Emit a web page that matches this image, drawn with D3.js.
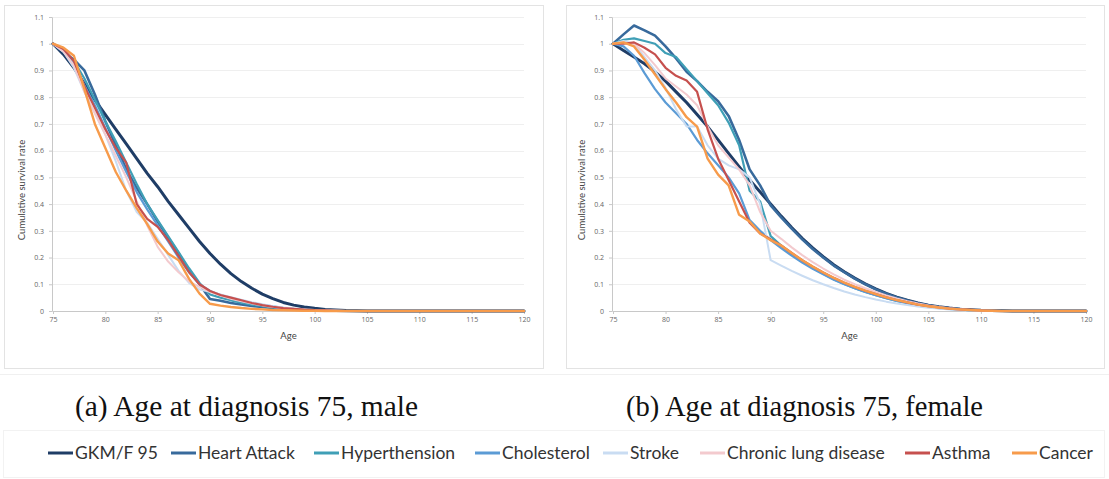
<!DOCTYPE html>
<html><head><meta charset="utf-8">
<script src="https://cdn.jsdelivr.net/npm/d3@7"></script>
<style>body{margin:0;background:#fff}svg{display:block}</style>
</head><body>
<svg id="c" width="1109" height="479"></svg>
<script>
// ---------- data ----------
const ages = d3.range(75, 121);
const seriesNames = ["GKM/F 95","Heart Attack","Hyperthension","Cholesterol","Stroke","Chronic lung disease","Asthma","Cancer"];
const yTicks = [0,0.1,0.2,0.3,0.4,0.5,0.6,0.7,0.8,0.9,1,1.1];
const xTicks = [75,80,85,90,95,100,105,110,115,120];
const captions = ["(a)  Age at diagnosis 75, male", "(b) Age at diagnosis 75, female"];

// male
const gkmMale = [1.0,0.96,0.91,0.85,0.79,0.735,0.68,0.625,0.57,0.515,0.465,0.41,0.36,0.31,0.26,0.215,0.175,0.14,0.11,0.085,0.063,0.046,0.032,0.022,0.015,0.01,0.006,0.004,0.002,0.001,0,0,0,0,0,0,0,0,0,0,0,0,0,0,0,0];
const heartMale = [1,0.97,0.94,0.9,0.81,0.71,0.62,0.53,0.46,0.4,0.335,0.275,0.215,0.15,0.1,0.045,0.038,0.03,0.024,0.019,0.015,0.011,0.008,0.006,0.004,0.003,0.002,0.001,0,0,0,0,0,0,0,0,0,0,0,0,0,0,0,0,0,0];
const hyperMale = [1,0.97,0.935,0.87,0.79,0.71,0.635,0.555,0.475,0.4,0.34,0.28,0.22,0.16,0.105,0.062,0.05,0.04,0.031,0.024,0.018,0.013,0.009,0.006,0.004,0.003,0.002,0.001,0,0,0,0,0,0,0,0,0,0,0,0,0,0,0,0,0,0];
const cholMale = [1,0.97,0.925,0.845,0.77,0.685,0.6,0.52,0.445,0.38,0.32,0.26,0.2,0.145,0.1,0.075,0.06,0.048,0.038,0.03,0.023,0.017,0.012,0.008,0.005,0.003,0.002,0.001,0,0,0,0,0,0,0,0,0,0,0,0,0,0,0,0,0,0];
const strokeMale = [1,0.97,0.91,0.82,0.74,0.66,0.56,0.45,0.37,0.33,0.27,0.21,0.15,0.105,0.08,0.072,0.062,0.052,0.042,0.033,0.025,0.018,0.013,0.009,0.006,0.004,0.002,0.001,0,0,0,0,0,0,0,0,0,0,0,0,0,0,0,0,0,0];
const lungMale = [1,0.97,0.92,0.82,0.74,0.66,0.58,0.5,0.41,0.32,0.24,0.185,0.145,0.11,0.09,0.072,0.058,0.046,0.036,0.028,0.021,0.015,0.011,0.007,0.005,0.003,0.002,0.001,0,0,0,0,0,0,0,0,0,0,0,0,0,0,0,0,0,0];
const asthmaMale = [1,0.98,0.935,0.84,0.76,0.68,0.61,0.555,0.4,0.345,0.315,0.265,0.205,0.145,0.1,0.075,0.06,0.05,0.04,0.03,0.022,0.016,0.011,0.008,0.005,0.003,0.002,0.001,0,0,0,0,0,0,0,0,0,0,0,0,0,0,0,0,0,0];
const cancerMale = [1,0.985,0.955,0.83,0.7,0.61,0.52,0.45,0.385,0.325,0.26,0.215,0.19,0.12,0.065,0.027,0.02,0.015,0.011,0.008,0.006,0.004,0.003,0.002,0.001,0.001,0,0,0,0,0,0,0,0,0,0,0,0,0,0,0,0,0,0,0,0];

// female
const gkmFemale = [1.0,0.975,0.95,0.925,0.895,0.86,0.82,0.78,0.735,0.69,0.64,0.59,0.54,0.49,0.445,0.4,0.355,0.312,0.272,0.236,0.203,0.173,0.147,0.123,0.102,0.083,0.066,0.052,0.04,0.03,0.022,0.016,0.011,0.007,0.005,0.003,0.002,0.001,0,0,0,0,0,0,0,0];
const heartFemale = [1,1.035,1.068,1.05,1.03,0.99,0.945,0.895,0.86,0.82,0.785,0.73,0.64,0.53,0.47,0.395,0.35,0.308,0.268,0.232,0.2,0.17,0.145,0.121,0.1,0.081,0.065,0.051,0.039,0.029,0.021,0.015,0.01,0.007,0.004,0.003,0.002,0.001,0,0,0,0,0,0,0,0];
const hyperFemale = [1,1.015,1.02,1.01,1.0,0.965,0.95,0.905,0.86,0.815,0.77,0.705,0.62,0.45,0.41,0.28,0.245,0.214,0.186,0.161,0.139,0.119,0.101,0.085,0.071,0.059,0.048,0.038,0.03,0.023,0.017,0.012,0.008,0.005,0.003,0.002,0.001,0,0,0,0,0,0,0,0,0];
const cholFemale = [1,0.99,0.955,0.89,0.83,0.78,0.74,0.7,0.64,0.59,0.545,0.5,0.44,0.34,0.3,0.265,0.235,0.207,0.181,0.158,0.137,0.117,0.1,0.085,0.071,0.059,0.048,0.038,0.029,0.022,0.016,0.011,0.008,0.005,0.003,0.002,0.001,0,0,0,0,0,0,0,0,0];
const strokeFemale = [1,1.01,1.0,0.95,0.9,0.835,0.755,0.69,0.69,0.62,0.57,0.545,0.53,0.5,0.4,0.19,0.17,0.15,0.132,0.115,0.1,0.086,0.073,0.062,0.052,0.043,0.035,0.028,0.022,0.017,0.012,0.009,0.006,0.004,0.002,0.001,0,0,0,0,0,0,0,0,0,0];
const lungFemale = [1,1.005,1.0,0.965,0.92,0.87,0.84,0.81,0.77,0.69,0.62,0.575,0.53,0.47,0.37,0.3,0.27,0.238,0.209,0.183,0.159,0.137,0.117,0.1,0.085,0.071,0.058,0.047,0.037,0.028,0.021,0.015,0.01,0.007,0.004,0.002,0.001,0,0,0,0,0,0,0,0,0];
const asthmaFemale = [1,1.0,1.005,0.985,0.96,0.91,0.88,0.862,0.82,0.68,0.57,0.49,0.41,0.33,0.29,0.268,0.245,0.217,0.19,0.166,0.144,0.124,0.106,0.09,0.076,0.063,0.051,0.041,0.032,0.024,0.018,0.013,0.009,0.006,0.004,0.002,0.001,0,0,0,0,0,0,0,0,0];
const cancerFemale = [1,1.005,0.99,0.94,0.885,0.83,0.78,0.725,0.69,0.57,0.51,0.47,0.36,0.335,0.29,0.265,0.245,0.217,0.19,0.166,0.144,0.124,0.106,0.09,0.076,0.063,0.051,0.041,0.032,0.024,0.018,0.013,0.009,0.006,0.004,0.002,0.001,0,0,0,0,0,0,0,0,0];

const maleSeries = [gkmMale,heartMale,hyperMale,cholMale,strokeMale,lungMale,asthmaMale,cancerMale];
const femaleSeries = [gkmFemale,heartFemale,hyperFemale,cholFemale,strokeFemale,lungFemale,asthmaFemale,cancerFemale];

// ---------- styles ----------
const colors = ["#1f3d66","#386a9c","#3f9fb6","#5b9bd5","#c9dcf2","#f3cace","#c6504e","#f79b4b"];
const widths = [3,2.6,2.2,2.2,2,2,2.2,2.4];

const svg = d3.select("#c");
const font = "Lato, 'Open Sans', sans-serif";

// panel frames
svg.append("rect").attr("x",4.5).attr("y",5.5).attr("width",539).attr("height",363)
  .attr("fill","#fff").attr("stroke","#e3e3e3");
svg.append("rect").attr("x",566.5).attr("y",5.5).attr("width",538).attr("height",363)
  .attr("fill","#fff").attr("stroke","#e3e3e3");
svg.append("line").attr("x1",0).attr("x2",1109).attr("y1",374.5).attr("y2",374.5).attr("stroke","#f0f0f0");

function panel(x0, x1, data) {
  const top = 17, bottom = 311;
  const x = d3.scaleLinear().domain([75,120]).range([x0,x1]);
  const y = d3.scaleLinear().domain([0,1.1]).range([bottom,top]);
  const g = svg.append("g");
  // gridlines
  g.append("g").selectAll("line").data(yTicks.filter(d=>d>0)).join("line")
    .attr("x1",x0).attr("x2",x1).attr("y1",d=>Math.round(y(d))+0.5).attr("y2",d=>Math.round(y(d))+0.5)
    .attr("stroke","#efefef");
  // y axis
  const ya = g.append("g").attr("transform",`translate(${x0-1},0)`)
    .call(d3.axisLeft(y).tickValues(yTicks).tickSize(3).tickFormat(d=>String(+d.toFixed(1))));
  ya.select(".domain").attr("stroke","#c8c8c8");
  ya.selectAll(".tick line").attr("stroke","#c8c8c8");
  ya.selectAll("text").attr("fill","#666").attr("font-size",7).attr("font-family","'Open Sans', sans-serif").attr("dx",-2);
  // x axis
  const xa = g.append("g").attr("transform",`translate(0,${bottom})`)
    .call(d3.axisBottom(x).tickValues(xTicks).tickSize(3).tickFormat(d3.format("d")));
  xa.select(".domain").attr("stroke","#c8c8c8");
  xa.selectAll(".tick line").attr("stroke","#c8c8c8");
  xa.selectAll("text").attr("fill","#666").attr("font-size",7).attr("font-family","'Open Sans', sans-serif").attr("dy",5);
  // titles
  g.append("text").attr("transform",`translate(${x0-28},190) rotate(-90)`).attr("text-anchor","middle")
    .attr("font-size",9.5).attr("font-family",font).attr("fill","#444").text("Cumulative survival rate");
  g.append("text").attr("x",(x0+x1)/2).attr("y",339).attr("text-anchor","middle")
    .attr("font-size",9.5).attr("font-family",font).attr("fill","#444").text("Age");
  // lines
  const line = d3.line().x((d,i)=>x(ages[i])).y(d=>y(d));
  g.append("g").selectAll("path").data(data).join("path")
    .attr("d",d=>line(d)).attr("fill","none")
    .attr("stroke",(d,i)=>colors[i]).attr("stroke-width",(d,i)=>widths[i])
    .attr("stroke-linejoin","round").attr("stroke-linecap","round");
}
panel(53, 524, maleSeries);
panel(613, 1086, femaleSeries);

// captions
const capX = [75, 626], capW = [343, 357];
svg.selectAll("text.cap").data(captions).join("text").attr("class","cap")
  .attr("x",(d,i)=>capX[i]).attr("y",416)
  .attr("font-family","'Liberation Serif', serif").attr("font-size",28.5)
  .attr("fill","#111").attr("textLength",(d,i)=>capW[i]).attr("lengthAdjust","spacingAndGlyphs")
  .text(d=>d);

// legend
svg.append("rect").attr("x",3.5).attr("y",430.5).attr("width",1101).attr("height",47)
  .attr("fill","none").attr("stroke","#f2f2f2");
const legX = [48,171,314,475,603,700,905,1012];
const lg = svg.append("g").selectAll("g").data(seriesNames).join("g")
  .attr("transform",(d,i)=>`translate(${legX[i]},453)`);
lg.append("line").attr("x1",0).attr("x2",25).attr("y1",0).attr("y2",0)
  .attr("stroke",(d,i)=>colors[i]).attr("stroke-width",3);
lg.append("text").attr("x",27).attr("y",6).attr("font-family",font).attr("font-size",17.5)
  .attr("fill","#333").text(d=>d);
</script>
</body></html>
